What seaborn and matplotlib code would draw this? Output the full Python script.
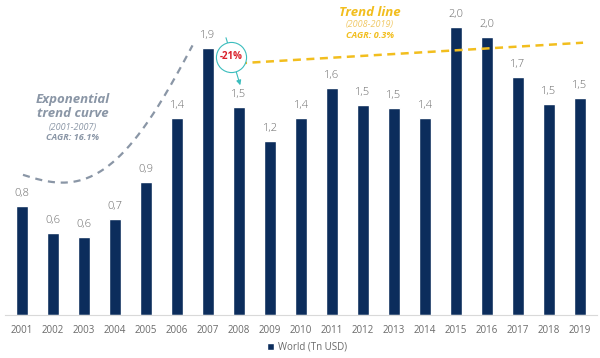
import numpy as np
import pandas as pd
import matplotlib
matplotlib.use("Agg")
import matplotlib.pyplot as plt
import seaborn as sns
from matplotlib.patches import Patch

# ---- data ----
years = [str(y) for y in range(2001, 2020)]
values = [0.77, 0.58, 0.55, 0.68, 0.94, 1.39, 1.88, 1.47, 1.23, 1.39,
          1.60, 1.48, 1.46, 1.39, 2.03, 1.96, 1.68, 1.49, 1.53]
series_name = "World (Tn USD)"

# annotation geometry (category index, value)
expo_x = [0.03, 1.0, 2.0, 2.8, 3.6, 4.3, 4.9, 5.5]
expo_y = [0.99, 0.93, 0.97, 1.05, 1.22, 1.45, 1.66, 1.90]
trend_x = [7.0, 18.1]
trend_y = [1.775, 1.92]
drop_label = "-21%"
drop_pos = (6.74, 1.82)
arrow_from = (6.58, 1.955)
arrow_to = (7.04, 1.62)

navy = "#0C2D5C"
gray_txt = "#6A6A6A"
curve_gray = "#8A96A6"
gold = "#F2BE1E"
teal = "#3BBDBD"

sns.set_theme(style="white")
plt.rcParams["font.family"] = ["Open Sans", "DejaVu Sans"]

fig = plt.figure(figsize=(6, 3.58), dpi=100)
ax = fig.add_axes([5 / 600, 43 / 358, 592 / 600, 312 / 358])

df = pd.DataFrame({"year": years, "value": values})
sns.barplot(data=df, x="year", y="value", color=navy, width=0.38,
            saturation=1, ax=ax, zorder=2)

ax.set_xlim(-0.55, 18.55)
ax.set_ylim(0, 2.2)
ax.set_xlabel("")
ax.set_ylabel("")
ax.set_yticks([])
for s in ["top", "right", "left"]:
    ax.spines[s].set_visible(False)
ax.spines["bottom"].set_color("#D9D9D9")
ax.spines["bottom"].set_linewidth(0.8)
ax.tick_params(axis="x", length=0, pad=7, labelsize=7, labelcolor=gray_txt)

for cont in ax.containers:
    ax.bar_label(cont, labels=[f"{v:.1f}".replace(".", ",") for v in values],
                 padding=5, fontsize=8, color=gray_txt, fontweight="light")

# exponential trend curve
coef = np.polyfit(expo_x, expo_y, 4)
xs = np.linspace(expo_x[0], expo_x[-1], 200)
ax.plot(xs, np.polyval(coef, xs), color=curve_gray, lw=1.6,
        dashes=(3.2, 2.6), zorder=3)

# linear trend line
ax.plot(trend_x, trend_y, color=gold, lw=1.8, dashes=(3.2, 2.2), zorder=3)

# -21% annotation
ax.annotate("", xy=arrow_to, xytext=arrow_from,
            arrowprops=dict(arrowstyle="-|>", color=teal, lw=0.8,
                            mutation_scale=7, shrinkA=0, shrinkB=0),
            zorder=4)
ax.scatter([drop_pos[0]], [drop_pos[1]], s=470, facecolor="white",
           edgecolor=teal, linewidth=0.8, zorder=5)
ax.text(drop_pos[0], drop_pos[1], drop_label, ha="center", va="center",
        fontsize=7, fontweight="bold", color="#D9202A", zorder=6)

# texts
def ftext(px, py, s, **kw):
    fig.text(px / 600, 1 - py / 358, s, ha="center", va="center", **kw)

ftext(73, 99, "Exponential", fontsize=9.5, fontweight="bold",
      style="italic", color=curve_gray)
ftext(73, 114, "trend curve", fontsize=9.5, fontweight="bold",
      style="italic", color=curve_gray)
ftext(73, 127, "(2001-2007)", fontsize=6.5, style="italic", color=curve_gray)
ftext(73, 138, "CAGR: 16.1%", fontsize=6.5, fontweight="bold",
      style="italic", color=curve_gray)

ftext(370, 13, "Trend line", fontsize=9.5, fontweight="bold",
      style="italic", color=gold)
ftext(370, 25, "(2008-2019)", fontsize=6.5, style="italic", color="#F0C865")
ftext(370, 36, "CAGR: 0.3%", fontsize=6.5, fontweight="bold",
      style="italic", color=gold)

# legend
fig.legend(handles=[Patch(facecolor=navy, label=series_name)],
           loc="center", bbox_to_anchor=(307 / 600, 1 - 347 / 358),
           frameon=False, fontsize=7, labelcolor=gray_txt,
           handlelength=0.75, handleheight=0.75, handletextpad=0.4)

fig.savefig("out.png", dpi=100)
